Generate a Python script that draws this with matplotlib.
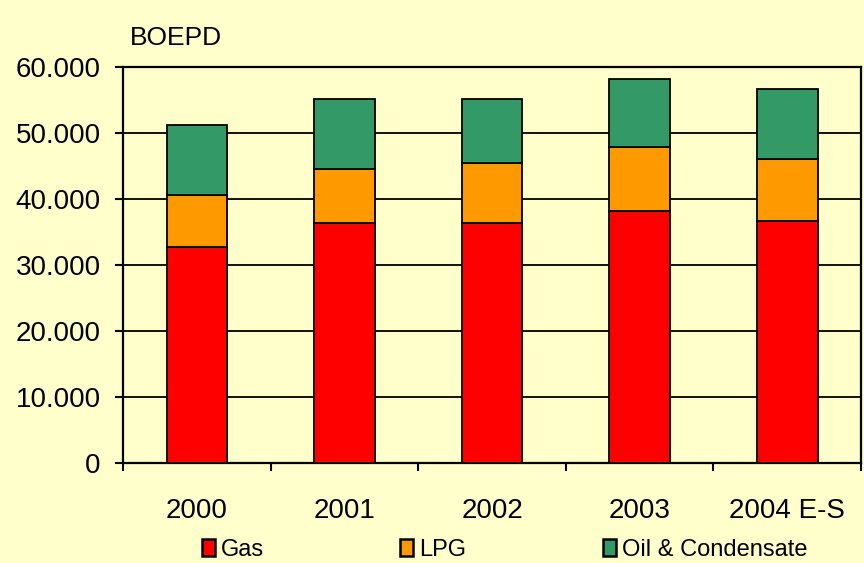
import matplotlib
matplotlib.use('Agg')
import matplotlib.pyplot as plt
from matplotlib.ticker import FuncFormatter

plt.rcParams['font.family'] = ['Liberation Sans', 'DejaVu Sans']

# datos (BOEPD)
years = ["2000", "2001", "2002", "2003", "2004 E-S"]
gas = [32750, 36300, 36300, 38150, 36600]
lpg = [7850, 8260, 9100, 9650, 9470]
oil = [10570, 10540, 9700, 10300, 10530]

bg = '#FFFFCC'
fig = plt.figure(figsize=(8.64, 5.63), dpi=100, facecolor=bg)
ax = fig.add_axes([0.1424, 0.1776, 0.8542, 0.7039], facecolor=bg)

x = list(range(len(years)))
bottom2 = [g + l for g, l in zip(gas, lpg)]
w = 0.41
b1 = ax.bar(x, gas, w, color='#FF0000', edgecolor='black', linewidth=1.3, label='Gas', zorder=3)
b2 = ax.bar(x, lpg, w, bottom=gas, color='#FF9900', edgecolor='black', linewidth=1.3, label='LPG', zorder=3)
b3 = ax.bar(x, oil, w, bottom=bottom2, color='#339966', edgecolor='black', linewidth=1.3,
            label='Oil & Condensate', zorder=3)

ax.set_xlim(-0.5, len(years) - 0.5)
ax.set_ylim(0, 60000)
ax.set_yticks(range(0, 60001, 10000))
ax.yaxis.set_major_formatter(FuncFormatter(lambda v, p: f"{v:,.0f}".replace(',', '.')))
ax.yaxis.grid(True, color='black', linewidth=1.3)
ax.set_axisbelow(True)

ax.set_xticks(x)
ax.set_xticklabels(years)
ax.set_xticks([i - 0.5 for i in range(len(years) + 1)], minor=True)
ax.tick_params(axis='x', which='major', length=0, pad=25, labelsize=20)
ax.tick_params(axis='x', which='minor', length=6, width=1.5, direction='out')
ax.tick_params(axis='y', length=6, width=1.5, pad=10, labelsize=20)

for s in ax.spines.values():
    s.set_linewidth(1.6)
    s.set_color('black')

fig.text(130 / 864, 1 - 38 / 563, 'BOEPD', fontsize=19, va='center', ha='left')

leg = fig.legend(handles=[b1, b2, b3], loc='center', bbox_to_anchor=(0.584, 1 - 550 / 563),
                 ncol=3, frameon=False, fontsize=17, handlelength=0.55, handleheight=0.75,
                 handletextpad=0.25, columnspacing=5.78, borderpad=0)
for h in leg.legend_handles:
    h.set_linewidth(1.8)

fig.savefig('out.png', dpi=100, facecolor=bg)
